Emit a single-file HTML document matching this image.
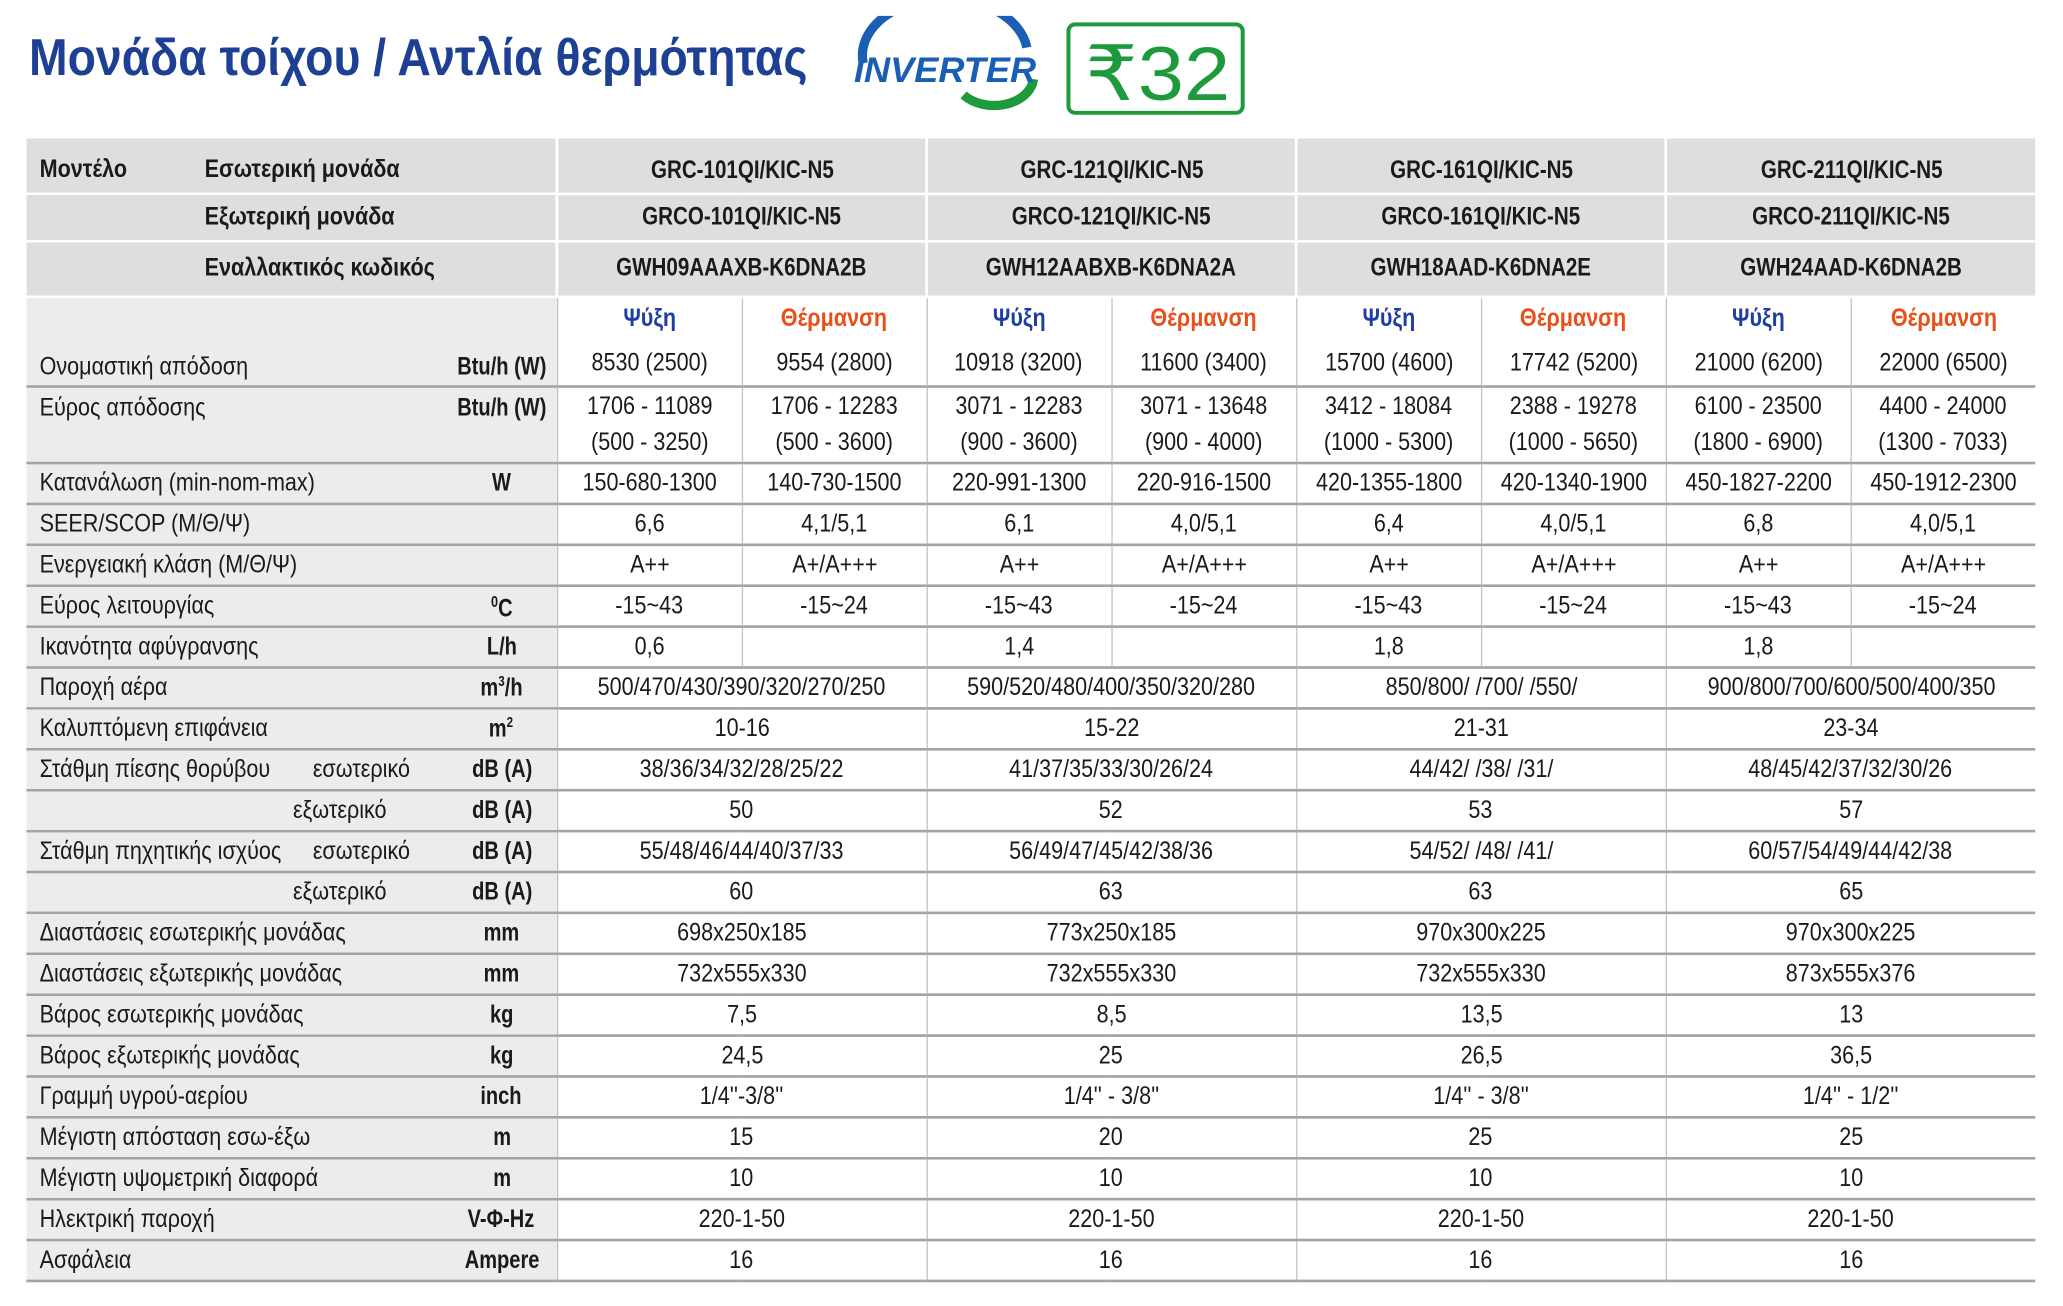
<!DOCTYPE html>
<html><head><meta charset="utf-8"><style>
html,body{margin:0;padding:0;background:#fff;}
body{width:2063px;height:1306px;overflow:hidden;position:relative;}
#w{position:absolute;left:0;top:0;width:1563px;height:990px;transform:scale(1.3199,1.3192);transform-origin:0 0;font-family:"Liberation Sans","DejaVu Sans",sans-serif;color:#1a1a1a;}
.title{position:absolute;left:22px;top:23px;font-size:39px;font-weight:bold;color:#1d3f94;white-space:nowrap;transform:scaleX(.9);transform-origin:0 0;}
table{position:absolute;left:20px;top:105px;border-collapse:collapse;table-layout:fixed;width:1522px;}
td{padding:0;font-size:19px;text-align:center;vertical-align:middle;height:29px;border-bottom:2px solid #a3a3a3;white-space:nowrap;}
td.d{border-left:1px solid #c4c4c4;}
td.L{background:#ececec;text-align:left;position:relative;}
.s{display:inline-block;transform:scaleX(.86);}
.l{display:inline-block;transform:scaleX(.86);transform-origin:0 50%;position:absolute;left:10px;top:50%;margin-top:-11px;}
.u{position:absolute;left:315px;width:90px;text-align:center;top:50%;margin-top:-11px;font-weight:bold;}
.u span{display:inline-block;transform:scaleX(.8);}
tr.h td{background:#dedede;border-bottom:2px solid #fff;font-weight:bold;height:34px;}
tr.h td.d{border-left:2px solid #fff;}
tr.h .s{transform:scaleX(.82);}
.hb{position:absolute;left:135px;top:50%;margin-top:-11px;display:inline-block;transform:scaleX(.86);transform-origin:0 50%;}
.b{color:#1e3fa0;font-weight:bold;}
.o{color:#e8501a;font-weight:bold;}
.dn{position:relative;top:4px;}
</style></head><body><div id="w">
<div class="title">Μονάδα τοίχου / Αντλία θερμότητας</div>
<svg style="position:absolute;left:640px;top:12px" width="310" height="80" viewBox="0 0 310 80">
<path d="M14 36 A58 40 0 0 1 138 24" fill="none" stroke="#1a5fb4" stroke-width="7"/>
<path d="M90 60 A30 22 0 0 0 143 48" fill="none" stroke="#1d9a3c" stroke-width="7"/>
<text x="7" y="50" font-family="Liberation Sans" font-weight="bold" font-style="italic" font-size="27" fill="#1a5fb4" textLength="138" lengthAdjust="spacingAndGlyphs">INVERTER</text>
<rect x="169.5" y="6.5" width="132" height="67" rx="5" fill="none" stroke="#1d9a3c" stroke-width="3"/>
<text x="182" y="64" font-family="Liberation Sans" font-size="58" fill="#1d9a3c" textLength="110" lengthAdjust="spacingAndGlyphs">₹32</text>
</svg>
<table>
<colgroup><col style="width:402px"><col span="8" style="width:140px"></colgroup>
<tr class="h"><td class="L" style="background:#dedede;height:41px"><span class="l" style="font-weight:bold;margin-top:-8px">Μοντέλο</span><span class="hb" style="margin-top:-8px">Εσωτερική μονάδα</span></td><td class="d" colspan="2"><span class="s dn">GRC-101QI/KIC-N5</span></td><td class="d" colspan="2"><span class="s dn">GRC-121QI/KIC-N5</span></td><td class="d" colspan="2"><span class="s dn">GRC-161QI/KIC-N5</span></td><td class="d" colspan="2"><span class="s dn">GRC-211QI/KIC-N5</span></td></tr>
<tr class="h"><td class="L" style="background:#dedede"><span class="hb">Εξωτερική μονάδα</span></td><td class="d" colspan="2"><span class="s">GRCO-101QI/KIC-N5</span></td><td class="d" colspan="2"><span class="s">GRCO-121QI/KIC-N5</span></td><td class="d" colspan="2"><span class="s">GRCO-161QI/KIC-N5</span></td><td class="d" colspan="2"><span class="s">GRCO-211QI/KIC-N5</span></td></tr>
<tr class="h"><td class="L" style="background:#dedede;height:40px"><span class="hb">Εναλλακτικός κωδικός</span></td><td class="d" colspan="2"><span class="s">GWH09AAAXB-K6DNA2B</span></td><td class="d" colspan="2"><span class="s">GWH12AABXB-K6DNA2A</span></td><td class="d" colspan="2"><span class="s">GWH18AAD-K6DNA2E</span></td><td class="d" colspan="2"><span class="s">GWH24AAD-K6DNA2B</span></td></tr>
<tr><td class="L" style="height:66px"><span class="l" style="top:auto;bottom:2px">Ονομαστική απόδοση</span><span class="u" style="top:auto;bottom:2px;margin:0"><span>Btu/h (W)</span></span></td>
<td class="d"><div class="b s">Ψύξη</div><div style="height:12px"></div><span class="s">8530 (2500)</span></td>
<td class="d"><div class="o s">Θέρμανση</div><div style="height:12px"></div><span class="s">9554 (2800)</span></td>
<td class="d"><div class="b s">Ψύξη</div><div style="height:12px"></div><span class="s">10918 (3200)</span></td>
<td class="d"><div class="o s">Θέρμανση</div><div style="height:12px"></div><span class="s">11600 (3400)</span></td>
<td class="d"><div class="b s">Ψύξη</div><div style="height:12px"></div><span class="s">15700 (4600)</span></td>
<td class="d"><div class="o s">Θέρμανση</div><div style="height:12px"></div><span class="s">17742 (5200)</span></td>
<td class="d"><div class="b s">Ψύξη</div><div style="height:12px"></div><span class="s">21000 (6200)</span></td>
<td class="d"><div class="o s">Θέρμανση</div><div style="height:12px"></div><span class="s">22000 (6500)</span></td></tr>
<tr><td class="L" style="height:56px"><span class="l" style="top:5px;margin:0">Εύρος απόδοσης</span><span class="u" style="top:5px;margin:0"><span>Btu/h (W)</span></span></td>
<td class="d"><span class="s" style="line-height:27px">1706 - 11089<br>(500 - 3250)</span></td>
<td class="d"><span class="s" style="line-height:27px">1706 - 12283<br>(500 - 3600)</span></td>
<td class="d"><span class="s" style="line-height:27px">3071 - 12283<br>(900 - 3600)</span></td>
<td class="d"><span class="s" style="line-height:27px">3071 - 13648<br>(900 - 4000)</span></td>
<td class="d"><span class="s" style="line-height:27px">3412 - 18084<br>(1000 - 5300)</span></td>
<td class="d"><span class="s" style="line-height:27px">2388 - 19278<br>(1000 - 5650)</span></td>
<td class="d"><span class="s" style="line-height:27px">6100 - 23500<br>(1800 - 6900)</span></td>
<td class="d"><span class="s" style="line-height:27px">4400 - 24000<br>(1300 - 7033)</span></td></tr>
<tr><td class="L"><span class="l">Κατανάλωση (min-nom-max)</span><span class="u"><span>W</span></span></td><td class="d"><span class="s">150-680-1300</span></td><td class="d"><span class="s">140-730-1500</span></td><td class="d"><span class="s">220-991-1300</span></td><td class="d"><span class="s">220-916-1500</span></td><td class="d"><span class="s">420-1355-1800</span></td><td class="d"><span class="s">420-1340-1900</span></td><td class="d"><span class="s">450-1827-2200</span></td><td class="d"><span class="s">450-1912-2300</span></td></tr>
<tr><td class="L"><span class="l">SEER/SCOP (Μ/Θ/Ψ)</span></td><td class="d"><span class="s">6,6</span></td><td class="d"><span class="s">4,1/5,1</span></td><td class="d"><span class="s">6,1</span></td><td class="d"><span class="s">4,0/5,1</span></td><td class="d"><span class="s">6,4</span></td><td class="d"><span class="s">4,0/5,1</span></td><td class="d"><span class="s">6,8</span></td><td class="d"><span class="s">4,0/5,1</span></td></tr>
<tr><td class="L"><span class="l">Ενεργειακή κλάση (Μ/Θ/Ψ)</span></td><td class="d"><span class="s">A++</span></td><td class="d"><span class="s">A+/A+++</span></td><td class="d"><span class="s">A++</span></td><td class="d"><span class="s">A+/A+++</span></td><td class="d"><span class="s">A++</span></td><td class="d"><span class="s">A+/A+++</span></td><td class="d"><span class="s">A++</span></td><td class="d"><span class="s">A+/A+++</span></td></tr>
<tr><td class="L"><span class="l">Εύρος λειτουργίας</span><span class="u"><span><sup style="font-size:12px">0</sup>C</span></span></td><td class="d"><span class="s">-15~43</span></td><td class="d"><span class="s">-15~24</span></td><td class="d"><span class="s">-15~43</span></td><td class="d"><span class="s">-15~24</span></td><td class="d"><span class="s">-15~43</span></td><td class="d"><span class="s">-15~24</span></td><td class="d"><span class="s">-15~43</span></td><td class="d"><span class="s">-15~24</span></td></tr>
<tr><td class="L"><span class="l">Ικανότητα αφύγρανσης</span><span class="u"><span>L/h</span></span></td><td class="d"><span class="s">0,6</span></td><td class="d"></td><td class="d"><span class="s">1,4</span></td><td class="d"></td><td class="d"><span class="s">1,8</span></td><td class="d"></td><td class="d"><span class="s">1,8</span></td><td class="d"></td></tr>
<tr><td class="L"><span class="l">Παροχή αέρα</span><span class="u"><span>m<sup style="font-size:11px">3</sup>/h</span></span></td><td class="d" colspan="2"><span class="s">500/470/430/390/320/270/250</span></td><td class="d" colspan="2"><span class="s">590/520/480/400/350/320/280</span></td><td class="d" colspan="2"><span class="s">850/800/ /700/ /550/</span></td><td class="d" colspan="2"><span class="s">900/800/700/600/500/400/350</span></td></tr>
<tr><td class="L"><span class="l">Καλυπτόμενη επιφάνεια</span><span class="u"><span>m<sup style="font-size:11px">2</sup></span></span></td><td class="d" colspan="2"><span class="s">10-16</span></td><td class="d" colspan="2"><span class="s">15-22</span></td><td class="d" colspan="2"><span class="s">21-31</span></td><td class="d" colspan="2"><span class="s">23-34</span></td></tr>
<tr><td class="L"><span class="l">Στάθμη πίεσης θορύβου</span><span class="l" style="left:217px">εσωτερικό</span><span class="u"><span>dB (A)</span></span></td><td class="d" colspan="2"><span class="s">38/36/34/32/28/25/22</span></td><td class="d" colspan="2"><span class="s">41/37/35/33/30/26/24</span></td><td class="d" colspan="2"><span class="s">44/42/ /38/ /31/</span></td><td class="d" colspan="2"><span class="s">48/45/42/37/32/30/26</span></td></tr>
<tr><td class="L"><span class="l" style="left:202px">εξωτερικό</span><span class="u"><span>dB (A)</span></span></td><td class="d" colspan="2"><span class="s">50</span></td><td class="d" colspan="2"><span class="s">52</span></td><td class="d" colspan="2"><span class="s">53</span></td><td class="d" colspan="2"><span class="s">57</span></td></tr>
<tr><td class="L"><span class="l">Στάθμη πηχητικής ισχύος</span><span class="l" style="left:217px">εσωτερικό</span><span class="u"><span>dB (A)</span></span></td><td class="d" colspan="2"><span class="s">55/48/46/44/40/37/33</span></td><td class="d" colspan="2"><span class="s">56/49/47/45/42/38/36</span></td><td class="d" colspan="2"><span class="s">54/52/ /48/ /41/</span></td><td class="d" colspan="2"><span class="s">60/57/54/49/44/42/38</span></td></tr>
<tr><td class="L"><span class="l" style="left:202px">εξωτερικό</span><span class="u"><span>dB (A)</span></span></td><td class="d" colspan="2"><span class="s">60</span></td><td class="d" colspan="2"><span class="s">63</span></td><td class="d" colspan="2"><span class="s">63</span></td><td class="d" colspan="2"><span class="s">65</span></td></tr>
<tr><td class="L"><span class="l">Διαστάσεις εσωτερικής μονάδας</span><span class="u"><span>mm</span></span></td><td class="d" colspan="2"><span class="s">698x250x185</span></td><td class="d" colspan="2"><span class="s">773x250x185</span></td><td class="d" colspan="2"><span class="s">970x300x225</span></td><td class="d" colspan="2"><span class="s">970x300x225</span></td></tr>
<tr><td class="L"><span class="l">Διαστάσεις εξωτερικής μονάδας</span><span class="u"><span>mm</span></span></td><td class="d" colspan="2"><span class="s">732x555x330</span></td><td class="d" colspan="2"><span class="s">732x555x330</span></td><td class="d" colspan="2"><span class="s">732x555x330</span></td><td class="d" colspan="2"><span class="s">873x555x376</span></td></tr>
<tr><td class="L"><span class="l">Βάρος εσωτερικής μονάδας</span><span class="u"><span>kg</span></span></td><td class="d" colspan="2"><span class="s">7,5</span></td><td class="d" colspan="2"><span class="s">8,5</span></td><td class="d" colspan="2"><span class="s">13,5</span></td><td class="d" colspan="2"><span class="s">13</span></td></tr>
<tr><td class="L"><span class="l">Βάρος εξωτερικής μονάδας</span><span class="u"><span>kg</span></span></td><td class="d" colspan="2"><span class="s">24,5</span></td><td class="d" colspan="2"><span class="s">25</span></td><td class="d" colspan="2"><span class="s">26,5</span></td><td class="d" colspan="2"><span class="s">36,5</span></td></tr>
<tr><td class="L"><span class="l">Γραμμή υγρού-αερίου</span><span class="u"><span>inch</span></span></td><td class="d" colspan="2"><span class="s">1/4''-3/8''</span></td><td class="d" colspan="2"><span class="s">1/4'' - 3/8''</span></td><td class="d" colspan="2"><span class="s">1/4'' - 3/8''</span></td><td class="d" colspan="2"><span class="s">1/4'' - 1/2''</span></td></tr>
<tr><td class="L"><span class="l">Μέγιστη απόσταση εσω-έξω</span><span class="u"><span>m</span></span></td><td class="d" colspan="2"><span class="s">15</span></td><td class="d" colspan="2"><span class="s">20</span></td><td class="d" colspan="2"><span class="s">25</span></td><td class="d" colspan="2"><span class="s">25</span></td></tr>
<tr><td class="L"><span class="l">Μέγιστη υψομετρική διαφορά</span><span class="u"><span>m</span></span></td><td class="d" colspan="2"><span class="s">10</span></td><td class="d" colspan="2"><span class="s">10</span></td><td class="d" colspan="2"><span class="s">10</span></td><td class="d" colspan="2"><span class="s">10</span></td></tr>
<tr><td class="L"><span class="l">Ηλεκτρική παροχή</span><span class="u"><span>V-Φ-Hz</span></span></td><td class="d" colspan="2"><span class="s">220-1-50</span></td><td class="d" colspan="2"><span class="s">220-1-50</span></td><td class="d" colspan="2"><span class="s">220-1-50</span></td><td class="d" colspan="2"><span class="s">220-1-50</span></td></tr>
<tr><td class="L"><span class="l">Ασφάλεια</span><span class="u"><span>Ampere</span></span></td><td class="d" colspan="2"><span class="s">16</span></td><td class="d" colspan="2"><span class="s">16</span></td><td class="d" colspan="2"><span class="s">16</span></td><td class="d" colspan="2"><span class="s">16</span></td></tr>
</table>
</div></body></html>
